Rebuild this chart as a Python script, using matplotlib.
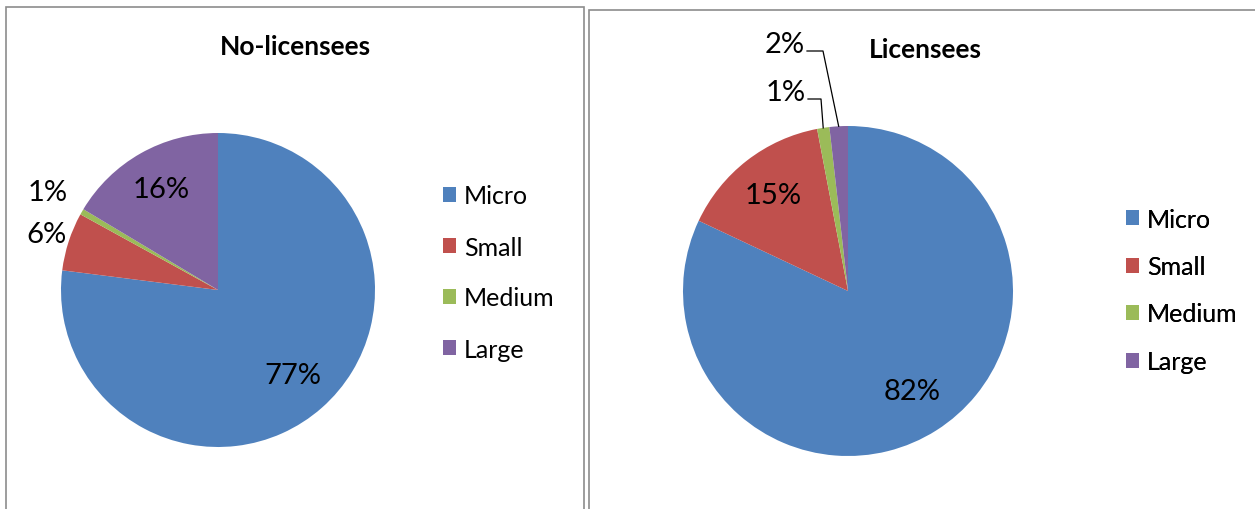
import matplotlib.pyplot as plt
import numpy as np
from matplotlib.patches import Rectangle

plt.rcParams['font.family'] = ['Lato', 'DejaVu Sans']

# data
categories = ['Micro', 'Small', 'Medium', 'Large']
colors = ['#4F81BD', '#C0504D', '#9BBB59', '#8064A2']

no_lic_values = [77, 6, 0.6, 16.4]
no_lic_labels = ['77%', '6%', '1%', '16%']

lic_values = [82, 15, 1.2, 1.8]
lic_labels = ['82%', '15%', '1%', '2%']

fig = plt.figure(figsize=(12.55, 5.10), dpi=100)
ax = fig.add_axes([0, 0, 1, 1])
ax.set_xlim(0, 1255)
ax.set_ylim(0, 510)
ax.axis('off')

# panel borders (pixel coords, y from bottom)
ax.add_patch(Rectangle((6, -10), 578, 512, fill=False, edgecolor='#8c8c8c', lw=1.2))
ax.add_patch(Rectangle((589, -10), 680, 509, fill=False, edgecolor='#8c8c8c', lw=1.2))


def draw_pie(values, labels, center, radius, dists):
    wedges, _ = ax.pie(values, colors=colors, startangle=90, counterclock=False,
                       center=center, radius=radius, frame=True,
                       wedgeprops=dict(linewidth=0))
    pos = []
    for w, lab, d in zip(wedges, labels, dists):
        th = np.deg2rad((w.theta1 + w.theta2) / 2)
        x = center[0] + d * radius * np.cos(th)
        y = center[1] + d * radius * np.sin(th)
        pos.append((th, x, y))
        if d > 0:
            ax.text(x, y, lab, ha='center', va='center', fontsize=21, color='black')
    return wedges, pos


# left pie: No-licensees
wl, _ = draw_pie(no_lic_values, no_lic_labels, (218, 219), 157, [0.72, 1.15, 1.25, 0.74])
ax.text(295, 463, 'No-licensees', ha='center', va='center', fontsize=19, fontweight='bold')

# right pie: Licensees
wr, pr = draw_pie(lic_values, lic_labels, (848, 218), 165, [0.72, 0.74, 0, 0])
ax.text(925, 460, 'Licensees', ha='center', va='center', fontsize=19, fontweight='bold')

# leader-line labels for the thin slices
lead_text = [(786, 417), (785, 465)]
lead_elbow = [(821, 410), (823, 458)]
for i, (tx, ty), (ex, ey) in zip([2, 3], lead_text, lead_elbow):
    th = pr[i][0]
    px = 848 + 165 * np.cos(th)
    py = 218 + 165 * np.sin(th)
    ax.text(tx, ty, lic_labels[i], ha='center', va='center', fontsize=21)
    ax.plot([tx + 22, ex, px], [ey, ey, py], color='black', lw=0.9)

# legends
for wedges, anchor, spacing in [(wl, (430, 337), 1.12), (wr, (1113, 314), 0.98)]:
    leg = ax.legend(wedges, categories, loc='upper left', bbox_to_anchor=anchor,
                    bbox_transform=ax.transData, frameon=False, fontsize=18,
                    handlelength=0.55, handleheight=0.55, handletextpad=0.3,
                    labelspacing=spacing, borderpad=0)
    ax.add_artist(leg)

ax.set_xlim(0, 1255)
ax.set_ylim(0, 510)
ax.set_aspect('auto')

fig.savefig('out.png', dpi=100, facecolor='white')
